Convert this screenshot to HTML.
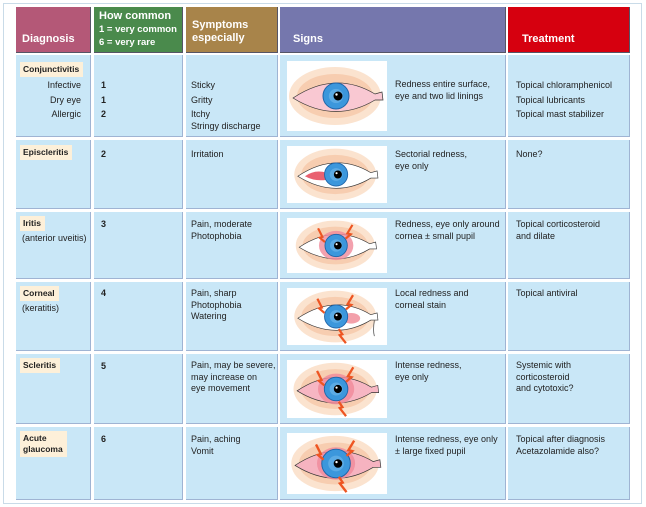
<!DOCTYPE html>
<html><head><meta charset="utf-8"><style>
body{margin:0;width:646px;height:507px;background:#fff;position:relative;overflow:hidden;font-family:"Liberation Sans",sans-serif;}
.frame{position:absolute;left:3px;top:3px;width:637px;height:499px;border:1px solid #c9dbe8;}
.c{position:absolute;background:#c9e7f7;border-right:1px solid #9fb4d3;border-bottom:1px solid #9fb4d3;box-sizing:border-box;}
.h{position:absolute;box-sizing:border-box;color:#fff;font-weight:bold;font-size:11px;line-height:13px;border-right:1px solid #556;border-bottom:1px solid #556;white-space:nowrap;}
.t{position:absolute;left:0;top:0;width:646px;height:507px;font-size:9px;line-height:11.5px;color:#222}
.t div{white-space:nowrap}
.tag{position:absolute;background:#fdf0d9;font-weight:bold;padding:2px 4px 2px 3px;font-size:8.5px;line-height:11px;}
.b{font-weight:bold}
.img{position:absolute;left:287px;width:100px;background:#fff;}
.img svg{width:100px;height:100%;display:block}
</style></head><body>
<div class="frame"></div>
<div class="h" style="left:16px;top:7px;width:75px;height:46px;background:#b45877;padding:26px 0 0 6px">Diagnosis</div>
<div class="h" style="left:94px;top:7px;width:89px;height:46px;background:#4a8a4c;padding:3px 0 0 5px;line-height:12.5px"><span style="font-size:11px">How common</span><br><span style="font-size:9.5px">1 = very common<br>6 = very rare</span></div>
<div class="h" style="left:186px;top:7px;width:92px;height:46px;background:#a8844a;padding:12px 0 0 6px">Symptoms<br>especially</div>
<div class="h" style="left:280px;top:7px;width:226px;height:46px;background:#7577ad;padding:26px 0 0 13px">Signs</div>
<div class="h" style="left:508px;top:7px;width:122px;height:46px;background:#d6000f;padding:26px 0 0 14px">Treatment</div>

<div id="rows"></div>
<script>
var rows=[[55,137],[140,209],[212,279],[282,351],[354,424],[427,500]];
var cols=[[16,91],[94,183],[186,278],[280,506],[508,630]];
var h='';
rows.forEach(function(r){cols.forEach(function(c){h+='<div class="c" style="left:'+c[0]+'px;top:'+r[0]+'px;width:'+(c[1]-c[0])+'px;height:'+(r[1]-r[0])+'px"></div>';});});
document.getElementById('rows').innerHTML=h;
</script>

<div class="t">
<div class="tag" style="left:20px;top:62px">Conjunctivitis</div>
<div style="position:absolute;left:20px;top:78px;width:61px;text-align:right;line-height:14.5px">Infective<br>Dry eye<br>Allergic</div>
<div class="b" style="position:absolute;left:101px;top:78px;line-height:14.5px">1<br>1<br>2</div>
<div style="position:absolute;left:191px;top:78px;line-height:14.5px">Sticky<br>Gritty<br>Itchy<br><span style="position:relative;top:-3px">Stringy discharge</span></div>
<div style="position:absolute;left:395px;top:79px">Redness entire surface,<br>eye and two lid linings</div>
<div style="position:absolute;left:516px;top:78px;line-height:14.5px">Topical chloramphenicol<br>Topical lubricants<br>Topical mast stabilizer</div>

<div class="tag" style="left:20px;top:145px">Episcleritis</div>
<div class="b" style="position:absolute;left:101px;top:149px">2</div>
<div style="position:absolute;left:191px;top:149px">Irritation</div>
<div style="position:absolute;left:395px;top:149px">Sectorial redness,<br>eye only</div>
<div style="position:absolute;left:516px;top:149px">None?</div>

<div class="tag" style="left:20px;top:216px">Iritis</div>
<div style="position:absolute;left:22px;top:233px">(anterior uveitis)</div>
<div class="b" style="position:absolute;left:101px;top:219px">3</div>
<div style="position:absolute;left:191px;top:219px">Pain, moderate<br>Photophobia</div>
<div style="position:absolute;left:395px;top:219px">Redness, eye only around<br>cornea ± small pupil</div>
<div style="position:absolute;left:516px;top:219px">Topical corticosteroid<br>and dilate</div>

<div class="tag" style="left:20px;top:286px">Corneal</div>
<div style="position:absolute;left:22px;top:303px">(keratitis)</div>
<div class="b" style="position:absolute;left:101px;top:288px">4</div>
<div style="position:absolute;left:191px;top:288px">Pain, sharp<br>Photophobia<br>Watering</div>
<div style="position:absolute;left:395px;top:288px">Local redness and<br>corneal stain</div>
<div style="position:absolute;left:516px;top:288px">Topical antiviral</div>

<div class="tag" style="left:20px;top:358px">Scleritis</div>
<div class="b" style="position:absolute;left:101px;top:361px">5</div>
<div style="position:absolute;left:191px;top:360px">Pain, may be severe,<br>may increase on<br>eye movement</div>
<div style="position:absolute;left:395px;top:360px">Intense redness,<br>eye only</div>
<div style="position:absolute;left:516px;top:360px">Systemic with<br>corticosteroid<br>and cytotoxic?</div>

<div class="tag" style="left:20px;top:431px;white-space:normal">Acute<br>glaucoma</div>
<div class="b" style="position:absolute;left:101px;top:434px">6</div>
<div style="position:absolute;left:191px;top:434px">Pain, aching<br>Vomit</div>
<div style="position:absolute;left:395px;top:434px">Intense redness, eye only<br>± large fixed pupil</div>
<div style="position:absolute;left:516px;top:434px">Topical after diagnosis<br>Acetazolamide also?</div>
</div>

<div id="eyes"></div>
<script>
function eye(lid,extra,bolts,irisR){
 irisR=irisR||13;
 var s='<svg viewBox="0 0 100 64" preserveAspectRatio="xMidYMid meet">';
 s+='<ellipse cx="48" cy="32" rx="46" ry="29" fill="#fbe3cf"/><ellipse cx="48" cy="32" rx="38" ry="22" fill="#f7cdb0"/>';
 s+='<path d="M6,34 Q48,6 88,30 L95,28 L96,36 L88,36 Q48,60 6,34Z" fill="'+lid+'" stroke="#333" stroke-width="0.7"/>';
 s+=extra;
 s+='<circle cx="49" cy="32" r="'+irisR+'" fill="#3c97dc" stroke="#1f64a8" stroke-width="1"/><circle cx="49" cy="32" r="'+(irisR*0.55)+'" fill="#7cc0ee" opacity=".5"/><circle cx="51" cy="32" r="4.5" fill="#000"/><circle cx="49.5" cy="30.5" r="1.2" fill="#fff"/>';
 s+=bolts+'</svg>';return s;}
var bT='<path d="M28,12 L33,22 L30,23 L36,28" fill="none" stroke="#e52" stroke-width="2.5"/><path d="M68,8 L62,18 L66,19 L60,24" fill="none" stroke="#e52" stroke-width="2.5"/>';
var bB='<path d="M52,46 L56,52 L53,53 L60,62" fill="none" stroke="#e52" stroke-width="2.5"/>';
var ring='<ellipse cx="49" cy="32" rx="20" ry="17" fill="#f08a9a" opacity=".8"/>';
var rows=[[61,131,eye('#f9c8d2','','')],[146,203,eye('#fff','<path d="M14,34 Q25,26 38,30 L38,38 Q25,40 14,34Z" fill="#e33a4e" opacity=".8"/>','')],
[218,273,eye('#fff',ring,bT)],[288,345,eye('#fff','<ellipse cx="66" cy="34" rx="10" ry="6" fill="#f3a0aa"/><path d="M92,36 Q90,48 92,54" fill="none" stroke="#666" stroke-width="1"/>',bT+bB)],
[360,418,eye('#f7b6c3',ring,bT+bB)],[433,494,eye('#f6b3c0',ring,bT+bB,15)]];
var h='';rows.forEach(function(r){h+='<div class="img" style="top:'+r[0]+'px;height:'+(r[1]-r[0])+'px">'+r[2]+'</div>';});
document.getElementById('eyes').innerHTML=h;
</script>
</body></html>
